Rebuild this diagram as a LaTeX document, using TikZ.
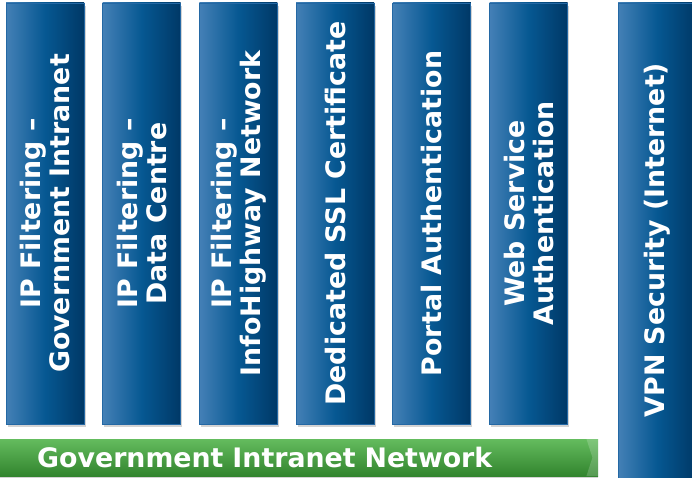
\documentclass[tikz,border=0pt]{standalone}
\usepackage{fontspec}
\setmainfont{DejaVu Sans}
\usetikzlibrary{positioning,shadows}

\definecolor{bxL}{RGB}{68,128,182}
\definecolor{bxM}{RGB}{6,88,146}
\definecolor{bxR}{RGB}{0,56,102}
\definecolor{bxE}{RGB}{36,104,164}
\definecolor{gnT}{RGB}{100,188,94}
\definecolor{gnB}{RGB}{50,132,46}

\begin{document}
\begin{tikzpicture}[x=1pt,y=-1pt,node distance=96.7pt,on grid]
       \tikzset{
         blk/.style={draw=bxE, line width=0.8pt, left color=bxL, right color=bxR, middle color=bxM,
                     minimum width=78pt, minimum height=421pt, inner sep=0pt,
                     drop shadow={opacity=0.35, shadow xshift=1.5pt, shadow yshift=-3pt}},
         lbl/.style={rotate=90, text=white, align=center,
                     font=\bfseries\fontsize{26.8}{29}\selectfont},
         bar/.style={top color=gnT, bottom color=gnB, anchor=west,
                     minimum width=600pt, minimum height=37pt, inner ysep=0pt,
                     inner xsep=39pt, text width=522pt, align=left, text=white,
                     font=\bfseries\fontsize{26.8}{29}\selectfont,
                     drop shadow={opacity=0.35, shadow xshift=0pt, shadow yshift=-3pt}}
       }
       \useasboundingbox (0,0) rectangle (692,478);

       \node[blk]              (b1) at (45,213.5) {};
       \node[blk, right=of b1] (b2) {};
       \node[blk, right=of b2] (b3) {};
       \node[blk, right=of b3] (b4) {};
       \node[blk, right=of b4] (b5) {};
       \node[blk, right=of b5] (b6) {};
       \node[blk, minimum height=480pt] (vpn) at (657,243) {};

       \node[lbl] (t1) at (b1) {IP Filtering –\\Government Intranet};
       \node[lbl] (t2) at (b2) {IP Filtering –\\Data Centre};
       \node[lbl] (t3) at (b3) {IP Filtering –\\InfoHighway Network};
       \node[lbl] (t4) at (b4) {Dedicated SSL Certificate};
       \node[lbl] (t5) at (b5) {Portal Authentication};
       \node[lbl] (t6) at (b6) {Web Service\\Authentication};
       \node[lbl] (t7) at ([yshift=3pt]vpn.center) {VPN Security (Internet)};

       \node[bar] (net) at (-2,457.5) {Government Intranet Network};
       \fill[white, opacity=0.18] ([xshift=-12pt]net.north east) -- (net.north east)
             -- (net.south east) -- ([xshift=-12pt]net.south east)
             -- ([xshift=-6pt]net.east) -- cycle;
     \end{tikzpicture}
\end{document}
